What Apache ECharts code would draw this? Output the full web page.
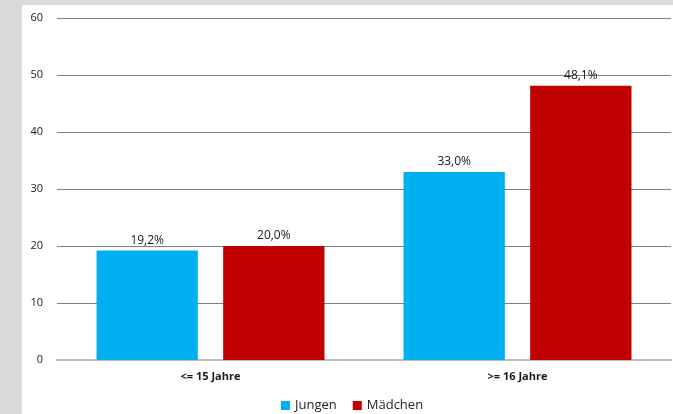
<!DOCTYPE html>
<html>
<head>
<meta charset="utf-8">
<script src="https://cdn.jsdelivr.net/npm/echarts@6/dist/echarts.min.js"></script>
<style>
  html, body { margin: 0; padding: 0; background: #d9d9d9; }
  #main { position: absolute; left: 22px; top: 5px; width: 651px; height: 409px; background: #fff; }
</style>
</head>
<body>
<div id="main"></div>
<script>
const categories = ["<= 15 Jahre", ">= 16 Jahre"];
const jungen = [19.2, 33.0];
const maedchen = [20.0, 48.1];
const yTicks = [0, 10, 20, 30, 40, 50, 60];

const font = "Open Sans, Noto Sans, sans-serif";
const pct = (p) => p.value.toFixed(1).replace(".", ",") + "%";

const chart = echarts.init(document.getElementById("main"));
chart.setOption({
  animation: false,
  textStyle: { fontFamily: font },
  grid: { left: 35, right: 2, top: 13, bottom: 54, containLabel: false },
  legend: {
    data: ["Jungen", "Mädchen"],
    left: 254,
    top: 389,
    icon: "rect",
    itemWidth: 9,
    itemHeight: 9,
    itemGap: 16,
    textStyle: { fontSize: 13, color: "#262626", fontFamily: font }
  },
  xAxis: {
    type: "category",
    data: categories,
    axisLine: { lineStyle: { color: "#bfbfbf", width: 2 } },
    axisTick: { show: false },
    axisLabel: { fontSize: 11, fontWeight: "bold", color: "#1a1a1a", margin: 11 }
  },
  yAxis: {
    type: "value",
    min: yTicks[0],
    max: yTicks[yTicks.length - 1],
    interval: 10,
    axisLine: { show: false },
    axisTick: { show: false },
    axisLabel: { fontSize: 11, color: "#1a1a1a", margin: 14 },
    splitLine: { lineStyle: { color: "#808080", width: 1 } }
  },
  series: [
    {
      name: "Jungen",
      type: "bar",
      data: jungen,
      barWidth: "33%",
      barGap: "25%",
      itemStyle: { color: "#00b0f0" },
      label: { show: true, position: "top", distance: 4, fontSize: 12, color: "#1a1a1a", formatter: pct }
    },
    {
      name: "Mädchen",
      type: "bar",
      data: maedchen,
      barWidth: "33%",
      barGap: "25%",
      itemStyle: { color: "#c00000" },
      label: { show: true, position: "top", distance: 4, fontSize: 12, color: "#1a1a1a", formatter: pct }
    }
  ]
});
</script>
</body>
</html>
